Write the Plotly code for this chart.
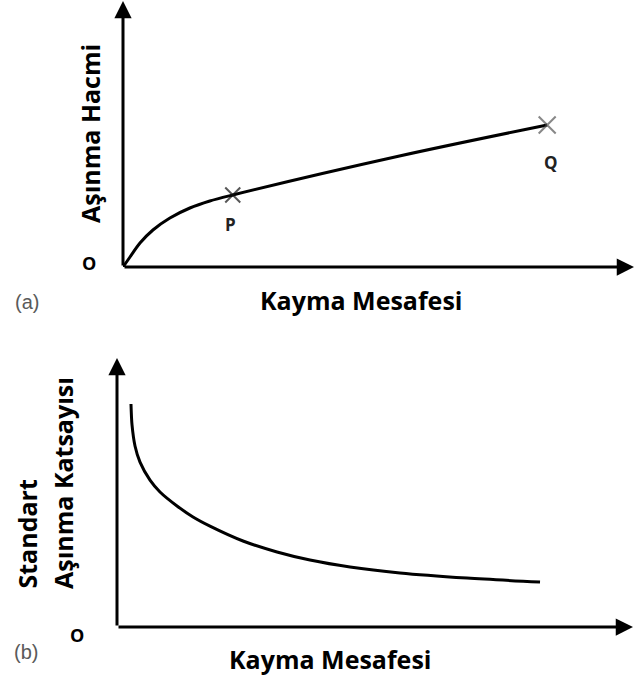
import plotly.graph_objects as go

W, H = 635, 681

# ---- Panel (a): wear volume vs sliding distance (arbitrary units 0-100) ----
a_x = [0, 1.37, 3.32, 5.86, 9.18, 13.09, 16.99, 21.48, 54.10, 83.01]
a_y = [0, 3.76, 9.02, 13.91, 18.42, 22.18, 24.81, 27.07, 41.73, 53.38]
a_marks_x = [21.48, 83.01]
a_marks_y = [27.07, 53.38]
a_marks_lbl = ["P", "Q"]

# ---- Panel (b): standard wear coefficient vs sliding distance ----
b_x = [2.71, 2.91, 3.49, 4.46, 6.40, 8.33, 11.63, 14.73, 18.02, 24.42,
       31.01, 37.40, 45.16, 54.84, 67.83, 81.98]
b_y = [82.9, 75.1, 67.3, 61.3, 54.6, 50.2, 45.0, 40.9, 37.5, 31.97,
       27.9, 24.9, 22.3, 20.1, 18.2, 16.7]

x_title = "Kayma Mesafesi"
a_y_title = "Aşınma Hacmi"
b_y_title1 = "Standart"
b_y_title2 = "Aşınma Katsayısı"

FONT = "Open Sans"

def px(x):
    return x / W

def py(y):
    return 1 - y / H

fig = go.Figure()

fig.add_trace(go.Scatter(
    x=a_x, y=a_y, mode="lines", xaxis="x", yaxis="y",
    line=dict(color="black", width=3, shape="spline", smoothing=0.9),
    hoverinfo="skip", showlegend=False))
fig.add_trace(go.Scatter(
    x=a_marks_x, y=a_marks_y, mode="markers", xaxis="x", yaxis="y",
    marker=dict(symbol="x-thin", size=[15, 17],
                line=dict(color=["#111111", "#555555"], width=2)),
    hoverinfo="skip", showlegend=False, cliponaxis=False))
fig.add_trace(go.Scatter(
    x=b_x, y=b_y, mode="lines", xaxis="x2", yaxis="y2",
    line=dict(color="black", width=3, shape="spline", smoothing=0.8),
    hoverinfo="skip", showlegend=False))

ax_common = dict(visible=False, range=[0, 100], fixedrange=True)

fig.update_layout(
    width=W, height=H,
    margin=dict(l=0, r=0, t=0, b=0),
    paper_bgcolor="white", plot_bgcolor="white",
    showlegend=False,
    xaxis=dict(domain=[px(123), px(634)], anchor="y", **ax_common),
    yaxis=dict(domain=[py(267), py(1)], anchor="x", **ax_common),
    xaxis2=dict(domain=[px(117), px(633)], anchor="y2", **ax_common),
    yaxis2=dict(domain=[py(627), py(358)], anchor="x2", **ax_common),
)

ann = []
# axis arrows
for xr, yr in (("x", "y"), ("x2", "y2")):
    ann.append(dict(x=100, y=0, ax=0, ay=0, xref=xr, yref=yr, axref=xr, ayref=yr,
                    showarrow=True, arrowhead=2, arrowsize=1.15, arrowwidth=3,
                    arrowcolor="black", text=""))
    ann.append(dict(x=0, y=100, ax=0, ay=0, xref=xr, yref=yr, axref=xr, ayref=yr,
                    showarrow=True, arrowhead=2, arrowsize=1.15, arrowwidth=3,
                    arrowcolor="black", text=""))

# P / Q labels
shifts = [(-2, -30), (4, -37)]
for lx, ly, lt, (sx, sy) in zip(a_marks_x, a_marks_y, a_marks_lbl, shifts):
    ann.append(dict(x=lx, y=ly, xref="x", yref="y", text="<b>%s</b>" % lt,
                    showarrow=False, xshift=sx, yshift=sy,
                    xanchor="center", yanchor="middle",
                    font=dict(family=FONT, size=17, color="#222222")))

def label(x, y, text, size, color="black", family=FONT, angle=0,
          xanchor="center", yanchor="middle"):
    ann.append(dict(x=px(x), y=py(y), xref="paper", yref="paper", text=text,
                    showarrow=False, textangle=angle,
                    xanchor=xanchor, yanchor=yanchor,
                    font=dict(family=family, size=size, color=color)))

# origins
label(89, 263, "<b>O</b>", 18)
label(77, 635, "<b>O</b>", 18)

# panel tags
label(27, 302, "(a)", 20, color="#5a5a5a", family="Liberation Sans")
label(26, 652, "(b)", 20, color="#5a5a5a", family="Liberation Sans")

# x titles
label(361, 300, "<b>%s</b>" % x_title, 25)
label(330, 659, "<b>%s</b>" % x_title, 25)

# y titles
label(90, 134, "<b>%s</b>" % a_y_title, 25, angle=-90)
label(26, 591, "<b>%s</b>" % b_y_title1, 25, angle=-90, yanchor="bottom")
label(63, 591, "<b>%s</b>" % b_y_title2, 25, angle=-90, yanchor="bottom")

fig.update_layout(annotations=ann)

fig.write_html("out.html", config={"displayModeBar": False},
               post_script="document.body.style.margin='0px';"
                           "document.body.style.overflow='hidden';")
